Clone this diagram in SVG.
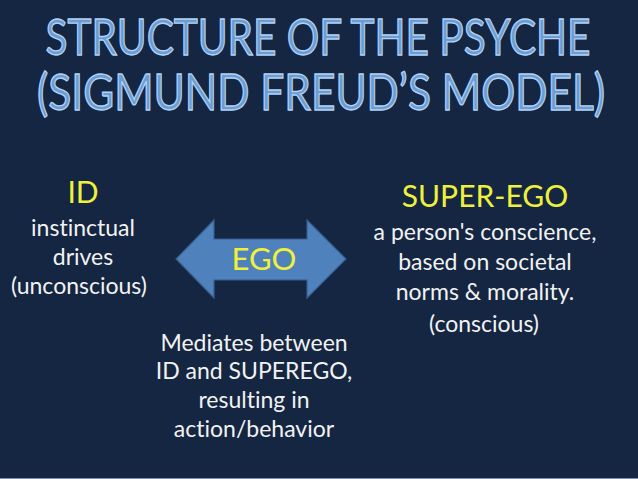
<svg xmlns="http://www.w3.org/2000/svg" width="638" height="479" viewBox="0 0 638 479">
<style>
text{font-variant-ligatures:none}
.title{font-family:Lato,"Open Sans","DejaVu Sans",sans-serif;font-weight:normal;font-size:40px;fill:#6a9cd6;stroke:#b3d1f2;stroke-width:1.1px;text-anchor:middle}
.yl{font-family:Lato,"Open Sans","DejaVu Sans",sans-serif;fill:#eef03c;text-anchor:middle}
.wt{font-family:Lato,"Open Sans","DejaVu Sans",sans-serif;fill:#f2f2f2;text-anchor:middle;font-size:23px}
</style>
<rect width="638" height="479" fill="#142641"/>
<rect x="0" y="478" width="638" height="1" fill="#7f90a8"/>
<g id="title">
<text class="title" transform="translate(318,55) scale(1,1.25)" x="0" y="0" textLength="545" lengthAdjust="spacingAndGlyphs">STRUCTURE OF THE PSYCHE</text>
<text class="title" transform="translate(321,110) scale(1,1.25)" x="0" y="0" textLength="568" lengthAdjust="spacingAndGlyphs">(SIGMUND FREUD’S MODEL)</text>
</g>
<g id="id">
<text class="yl" x="83" y="203" font-size="30">ID</text>
<text class="wt" x="83" y="236" font-size="22.5">instinctual</text>
<text class="wt" x="83" y="265" font-size="22.5">drives</text>
<text class="wt" x="79" y="294" font-size="22.5">(unconscious)</text>
</g>
<g id="ego">
<path d="M176,259 L214,220 L214,239 L307,239 L307,220 L346,259 L307,298 L307,280 L214,280 L214,298 Z" fill="#4f81bd" stroke="#385d8a" stroke-width="1.2"/>
<text class="yl" x="264" y="270" font-size="31">EGO</text>
</g>
<g id="superego">
<text class="yl" x="485" y="207" font-size="30">SUPER-EGO</text>
<text class="wt" x="485" y="240">a person's conscience,</text>
<text class="wt" x="485" y="270">based on societal</text>
<text class="wt" x="485" y="300">norms &amp; morality.</text>
<text class="wt" x="484" y="332" font-size="28">(conscious)</text>
</g>
<g id="mediates">
<text class="wt" x="254" y="351">Mediates between</text>
<text class="wt" x="254" y="379">ID and SUPEREGO,</text>
<text class="wt" x="254" y="408">resulting in</text>
<text class="wt" x="254" y="437">action/behavior</text>
</g>
</svg>
